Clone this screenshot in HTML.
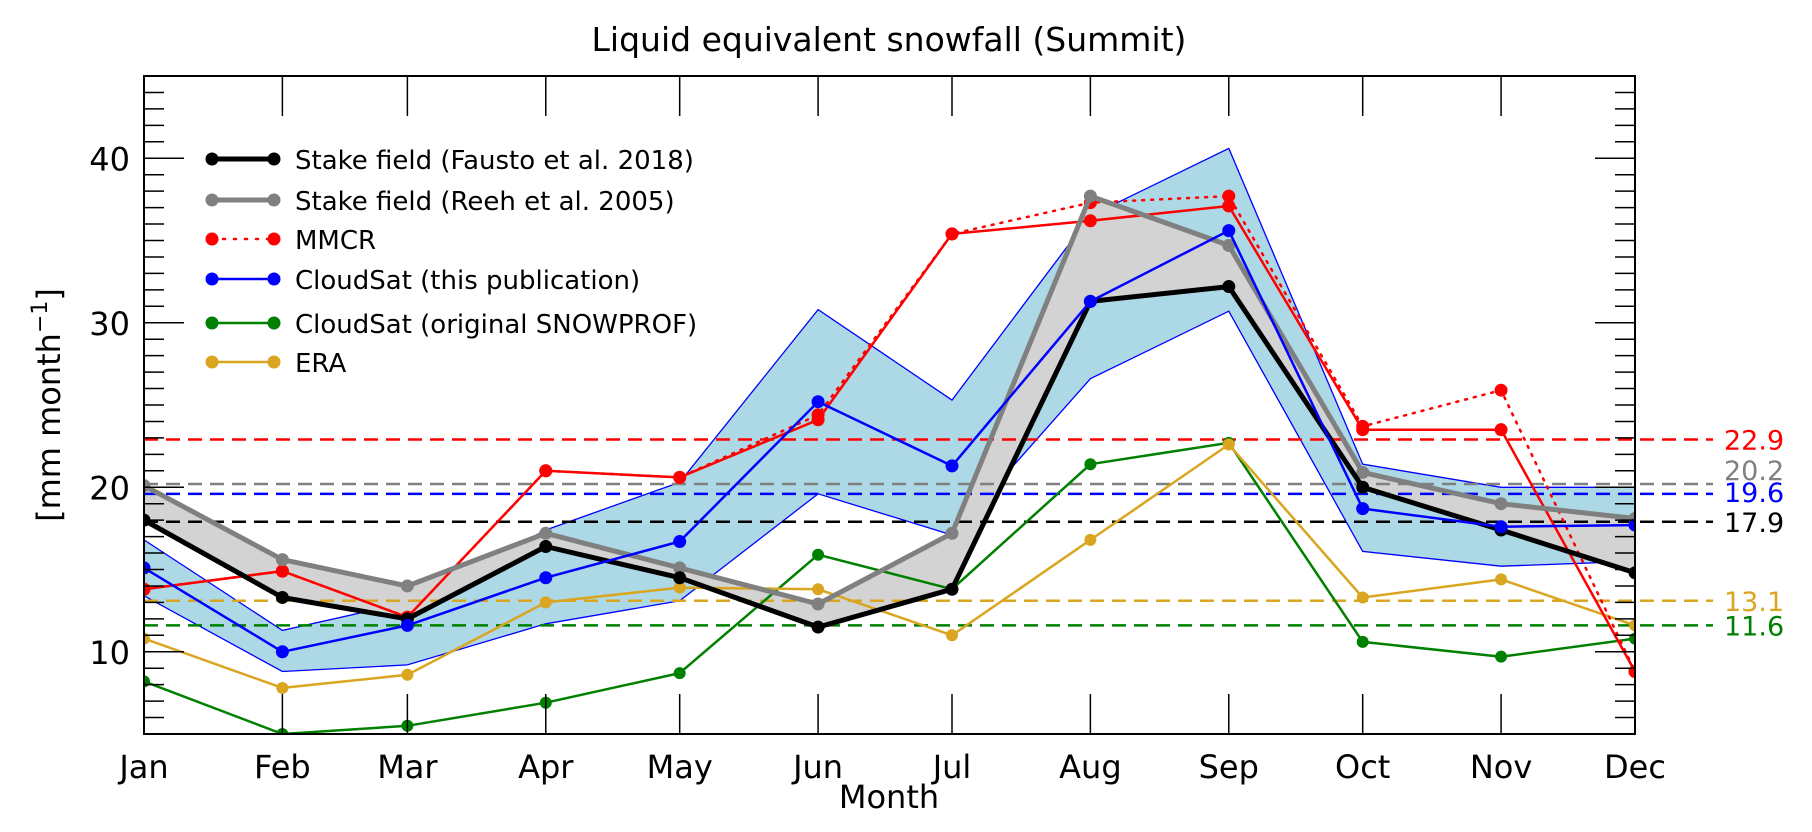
<!DOCTYPE html>
<html><head><meta charset="utf-8"><style>
html,body{margin:0;padding:0;background:#fff}
svg{display:block;font-family:"DejaVu Sans","Liberation Sans",sans-serif}
</style></head><body>
<svg id="chart" width="1812" height="832" viewBox="0 0 1812 832" xmlns="http://www.w3.org/2000/svg">
<defs><clipPath id="pc"><rect x="144" y="76" width="1491" height="658"/></clipPath></defs>
<text x="889" y="51" font-size="33" text-anchor="middle">Liquid equivalent snowfall (Summit)</text>
<text x="889" y="808" font-size="32" text-anchor="middle">Month</text>
<text transform="translate(60,405) rotate(-90)" font-size="32" text-anchor="middle">[mm month<tspan dy="-13" font-size="22">−1</tspan><tspan dy="13">]</tspan></text>
<g id="bands" clip-path="url(#pc)"></g>
<g id="hlines"></g>
<g id="series" clip-path="url(#pc)"></g>
<g id="axes"></g>
<g id="legend"></g>
</svg>
<script>
const months = ["Jan","Feb","Mar","Apr","May","Jun","Jul","Aug","Sep","Oct","Nov","Dec"];
const monthDays = [0,31,59,90,120,151,181,212,243,273,304,334];
const yTicks = [10,20,30,40];
const fausto = [18.0,13.3,12.0,16.4,14.5,11.5,13.8,31.3,32.2,20.0,17.4,14.8];
const reeh = [20.1,15.6,14.0,17.2,15.1,12.9,17.2,37.7,34.7,20.9,19.0,18.1];
const mmcrSolid = [13.8,14.9,12.1,21.0,20.6,24.1,35.4,36.2,37.1,23.5,23.5,8.8];
const mmcrDotted = [13.8,14.9,12.1,21.0,20.6,24.4,35.4,37.3,37.7,23.7,25.9,8.8];
const cloudsat = [15.1,10.0,11.6,14.5,16.7,25.2,21.3,31.3,35.6,18.7,17.6,17.7];
const snowprof = [8.2,5.0,5.5,6.9,8.7,15.9,13.8,21.4,22.7,10.6,9.7,10.8];
const era = [10.8,7.8,8.6,13.0,13.9,13.8,11.0,16.8,22.6,13.3,14.4,11.6];
const bandUpper = [16.8,11.3,13.0,17.4,20.3,30.8,25.3,36.5,40.6,21.4,20.0,20.0];
const bandLower = [13.4,8.8,9.2,11.7,13.1,19.6,17.1,26.6,30.7,16.1,15.2,15.5];
const meanValues = [22.9,20.2,19.6,17.9,13.1,11.6];
const meanLabels = ["22.9","20.2","19.6","17.9","13.1","11.6"];
const meanColors = ["#ff0000","#808080","#0000ff","#000000","#daa520","#008000"];
const labelNudge = [0,-14,-2,0,0,0];

const NS="http://www.w3.org/2000/svg";
const X0=144,X1=1635,Y0=76,Y1=734,YMIN=5,YMAX=45;
const xs=d=>X0+(d-monthDays[0])/(monthDays[11]-monthDays[0])*(X1-X0);
const ys=v=>Y1-(v-YMIN)/(YMAX-YMIN)*(Y1-Y0);
function mk(tag,attrs,parent){const e=document.createElementNS(NS,tag);for(const k in attrs)e.setAttribute(k,attrs[k]);parent.appendChild(e);return e;}
const pts=a=>a.map((v,i)=>xs(monthDays[i]).toFixed(1)+","+ys(v).toFixed(1)).join(" ");

const bands=document.getElementById('bands');
let p=mk('polygon',{points:pts(bandUpper)+" "+pts(bandLower).split(" ").reverse().join(" "),fill:"#add8e6",stroke:"none"},bands);


[bandUpper,bandLower].forEach((a,k)=>{const l=mk('polyline',{points:pts(a),fill:"none",stroke:"#0000ff","stroke-width":1.3},bands);

});
p=mk('polygon',{points:pts(reeh)+" "+pts(fausto).split(" ").reverse().join(" "),fill:"#d3d3d3",stroke:"none"},bands);



const hl=document.getElementById('hlines');
meanValues.forEach((v,i)=>{
 const l=mk('line',{x1:X0,x2:1713,y1:ys(v),y2:ys(v),stroke:meanColors[i],"stroke-width":2.5,"stroke-dasharray":"14 8"},hl);
 
 
 const t=mk('text',{x:1724,y:ys(v)+10+labelNudge[i],fill:meanColors[i],"font-size":27},hl);
 t.textContent=meanLabels[i];
 
 
});

const seriesDefs=[
 [snowprof,"#008000",2.5,null,6,"cloudsat-snowprof-series"],
 [era,"#daa520",2.5,null,6,"era-series"],
 [mmcrDotted,"#ff0000",2.5,"2 7",6.5,"mmcr-dotted-series"],
 [mmcrSolid,"#ff0000",2.5,null,6.5,"mmcr-series"],
 [reeh,"#808080",5,null,6.5,"stake-reeh-series"],
 [fausto,"#000000",5,null,6.5,"stake-fausto-series"],
 [cloudsat,"#0000ff",2.5,null,6.5,"cloudsat-series"]
];
const sg=document.getElementById('series');
seriesDefs.forEach(s=>{
 const g=mk('g',{},sg);
 
 
 const a={points:pts(s[0]),fill:"none",stroke:s[1],"stroke-width":s[2],"stroke-linejoin":"round"};
 if(s[3]){a["stroke-dasharray"]=s[3];a["stroke-linecap"]="round";}
 mk('polyline',a,g);
 s[0].forEach((v,i)=>{const c=mk('circle',{cx:xs(monthDays[i]),cy:ys(v),r:s[4],fill:s[1]},g);
  
  });
});

const ax=document.getElementById('axes');
let fr=mk('rect',{x:X0,y:Y0,width:X1-X0,height:Y1-Y0,fill:"none",stroke:"#000","stroke-width":2},ax);


for(let v=YMIN+1;v<YMAX;v++){
 const len=(v%10===0)?40:20;
 mk('line',{x1:X0,x2:X0+len,y1:ys(v),y2:ys(v),stroke:"#000","stroke-width":1.5},ax);
 mk('line',{x1:X1,x2:X1-len,y1:ys(v),y2:ys(v),stroke:"#000","stroke-width":1.5},ax);
}
yTicks.forEach(v=>{const t=mk('text',{x:X0-14,y:ys(v)+12,"font-size":32,"text-anchor":"end"},ax);t.textContent=v;
 
 });
months.forEach((m,i)=>{const x=xs(monthDays[i]);
 if(i>0&&i<11){mk('line',{x1:x,x2:x,y1:Y0,y2:Y0+40,stroke:"#000","stroke-width":1.5},ax);
  mk('line',{x1:x,x2:x,y1:Y1,y2:Y1-40,stroke:"#000","stroke-width":1.5},ax);}
 const t=mk('text',{x:x,y:Y1+44,"font-size":32,"text-anchor":"middle"},ax);t.textContent=m;
 
 });

const lg=document.getElementById('legend');
const legItems=[["Stake field (Fausto et al. 2018)","#000",5,null],["Stake field (Reeh et al. 2005)","#808080",5,null],["MMCR","#ff0000",2.5,"2 9"],["CloudSat (this publication)","#0000ff",2.5,null],["CloudSat (original SNOWPROF)","#008000",2.5,null],["ERA","#daa520",2.5,null]];
const legY=[159,200,239,279,323,362];
legItems.forEach((it,i)=>{const g=mk('g',{},lg);
 
 
 const a={x1:212,x2:274,y1:legY[i],y2:legY[i],stroke:it[1],"stroke-width":it[2],"stroke-linecap":"round"};
 if(it[3])a["stroke-dasharray"]=it[3];
 mk('line',a,g);
 mk('circle',{cx:212,cy:legY[i],r:6.5,fill:it[1]},g);
 mk('circle',{cx:274,cy:legY[i],r:6.5,fill:it[1]},g);
 const t=mk('text',{x:295,y:legY[i]+10,"font-size":26},g);t.textContent=it[0];});
</script>
</body></html>
